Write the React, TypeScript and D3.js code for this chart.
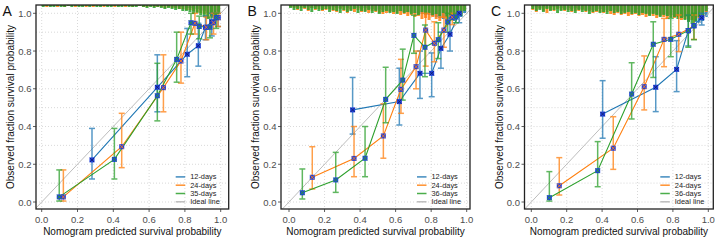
import React from 'react';
import * as d3 from 'd3';

// ---------- data ----------
const SERIES_COLORS = ['#1f77b4', '#ff7f0e', '#2ca02c'];
const PANEL_LABELS = ['A', 'B', 'C'];
const LEGEND_A = ['12-days', '24-days', '35-days', 'Ideal line'];
const LEGEND_BC = ['12-days', '24-days', '36-days', 'Ideal line'];
const X_TICKS = [0, 0.2, 0.4, 0.6, 0.8, 1.0];
const Y_TICKS = [0, 0.2, 0.4, 0.6, 0.8, 1.0];
const X_TITLE = 'Nomogram predicted survival probability';
const Y_TITLE = 'Observed fraction survival probability';

// [predicted, observed, lower, upper]
const A_12 = [[0.281, 0.223, 0.122, 0.39], [0.646, 0.608, 0.478, 0.78], [0.813, 0.783, 0.664, 0.92], [0.875, 0.828, 0.72, 0.947], [0.915, 0.926, 0.86, 0.985], [0.95, 0.955, 0.88, 1.0], [0.985, 0.977, 0.93, 1.0]];
const A_24 = [[0.121, 0.027, 0.005, 0.17], [0.447, 0.293, 0.182, 0.47], [0.68, 0.606, 0.478, 0.78], [0.778, 0.747, 0.63, 0.9], [0.856, 0.947, 0.89, 1.0], [0.92, 0.926, 0.86, 0.98], [0.96, 0.95, 0.89, 1.0], [0.985, 0.977, 0.93, 1.0]];
const A_35 = [[0.098, 0.027, 0.005, 0.17], [0.406, 0.226, 0.122, 0.39], [0.646, 0.563, 0.43, 0.735], [0.754, 0.756, 0.635, 0.9], [0.834, 0.95, 0.89, 1.0], [0.88, 0.93, 0.865, 0.985], [0.94, 0.926, 0.87, 0.98], [0.975, 0.977, 0.92, 1.0]];

const B_12 = [[0.358, 0.488, 0.36, 0.66], [0.621, 0.532, 0.408, 0.709], [0.737, 0.682, 0.549, 0.8], [0.803, 0.682, 0.558, 0.79], [0.855, 0.814, 0.709, 0.9], [0.906, 0.889, 0.8, 0.975], [0.958, 1.0, 0.95, 1.0]];
const B_24 = [[0.131, 0.131, 0.069, 0.293], [0.366, 0.231, 0.134, 0.4], [0.531, 0.35, 0.232, 0.52], [0.63, 0.597, 0.47, 0.756], [0.715, 0.717, 0.6, 0.8], [0.769, 0.911, 0.72, 1.0], [0.818, 0.841, 0.743, 0.955], [0.872, 0.911, 0.82, 0.98], [0.919, 0.979, 0.94, 1.0]];
const B_36 = [[0.075, 0.049, 0.016, 0.175], [0.263, 0.117, 0.051, 0.263], [0.428, 0.232, 0.134, 0.4], [0.544, 0.544, 0.42, 0.714], [0.64, 0.646, 0.54, 0.81], [0.703, 0.883, 0.788, 0.99], [0.765, 0.82, 0.664, 0.938], [0.84, 0.86, 0.76, 0.95], [0.893, 0.954, 0.9, 1.0], [0.94, 0.98, 0.95, 1.0]];

const C_12 = [[0.403, 0.466, 0.338, 0.643], [0.703, 0.608, 0.479, 0.77], [0.821, 0.703, 0.585, 0.855], [0.887, 0.908, 0.827, 0.99], [0.963, 0.977, 0.938, 1.0]];
const C_24 = [[0.158, 0.086, 0.037, 0.235], [0.463, 0.285, 0.173, 0.452], [0.638, 0.611, 0.488, 0.774], [0.75, 0.862, 0.717, 0.973], [0.833, 0.889, 0.797, 0.991], [0.919, 0.933, 0.862, 0.991]];
const C_36 = [[0.102, 0.023, 0.005, 0.161], [0.375, 0.166, 0.081, 0.32], [0.567, 0.572, 0.44, 0.738], [0.689, 0.836, 0.66, 0.955], [0.788, 0.862, 0.77, 0.973], [0.887, 0.908, 0.82, 0.99], [0.919, 0.935, 0.86, 1.0]];

// distribution of predicted probabilities (50 bins of width 0.02), relative frequency
const A_DIST_12 = [1,1,1,1,1,1,1,1,1,1, 1,1,1,1,1,1,1,1,1,1, 1,1,1,1,1,1,1,1,1,1, 1,1,1,1,1,1,2,2,2,2, 3,3,4,4,5,6,8,9,10,6];
const A_DIST_24 = [1,2,1,1,2,1,2,1,1,2, 1,1,2,1,2,1,1,2,1,1, 2,1,1,2,1,2,1,1,2,2, 1,2,2,2,3,2,3,3,4,4, 5,5,6,7,8,9,11,12,10,7];
const A_DIST_35 = [2,1,2,2,1,2,2,1,2,1, 2,2,1,2,1,2,2,1,2,2, 1,2,2,1,2,2,2,1,2,3, 2,3,2,3,4,3,4,5,4,6, 6,7,9,8,10,12,14,11,13,8];
const B_DIST_12 = [1,2,2,1,2,2,3,2,2,3, 2,3,2,3,3,2,3,4,3,3, 4,3,4,4,5,4,5,5,6,5, 6,6,7,7,8,8,9,9,10,10, 11,12,13,14,15,14,16,13,12,8];
const B_DIST_24 = [2,3,5,3,4,6,3,5,4,6, 5,4,6,7,4,6,8,5,7,5, 7,6,8,6,7,8,9,8,7,9, 8,10,9,11,10,12,11,14,13,15, 12,14,16,13,15,12,14,10,9,5];
const B_DIST_36 = [3,5,4,6,3,5,7,4,6,5, 4,7,5,6,8,5,7,6,4,8, 6,7,5,8,6,9,7,6,8,7, 9,6,8,7,9,8,10,7,9,8, 10,9,11,8,12,10,13,9,11,6];
const C_DIST_12 = [2,2,3,2,3,3,2,3,3,4, 3,4,3,4,4,5,4,5,5,4, 5,5,6,5,6,6,7,6,7,7, 8,7,8,9,8,9,10,9,11,10, 12,11,13,12,14,15,17,18,16,12];
const C_DIST_24 = [5,7,4,6,8,5,6,4,5,6, 5,7,6,6,5,7,6,8,7,7, 8,7,9,10,8,10,9,11,10,9, 11,10,12,10,11,13,11,12,14,12, 13,12,15,14,16,15,14,13,11,7];
const C_DIST_36 = [4,6,5,7,4,6,5,8,6,5, 7,6,8,5,7,6,9,7,6,8, 7,9,6,8,7,9,8,7,9,8, 10,8,9,11,9,10,12,10,11,13, 12,14,13,15,17,19,16,12,10,6];
const BIN_WIDTH = 0.02;

const PANEL_SERIES = [[A_12, A_24, A_35], [B_12, B_24, B_36], [C_12, C_24, C_36]];
const PANEL_DIST = [[A_DIST_12, A_DIST_24, A_DIST_35], [B_DIST_12, B_DIST_24, B_DIST_36], [C_DIST_12, C_DIST_24, C_DIST_36]];
const PANEL_LEGENDS = [LEGEND_A, LEGEND_BC, LEGEND_BC];

// ---------- layout ----------
const W = 720, H = 240;
const LAYOUT = [
  { left: 36, right: 228.7, x0: 41.7, x1: 220.7 },
  { left: 281, right: 470, x0: 289, x1: 466.7 },
  { left: 524.5, right: 713.3, x0: 531.3, x1: 708.3 },
];
const TOP = 5, BOTTOM = 209, Y0 = 202, Y1 = 13.3;
const FONT = "'Liberation Sans', Arial, Helvetica, sans-serif";
const IDEAL_COLOR = '#bdbdbd';
const MARKER_FILL = '#1f3fe0';

function Panel({ idx }: { idx: number }) {
  const L = LAYOUT[idx];
  const x = d3.scaleLinear().domain([0, 1]).range([L.x0, L.x1]);
  const y = d3.scaleLinear().domain([0, 1]).range([Y0, Y1]);
  const distLen = d3.scaleLinear().domain([0, 1]).range([0, 1]);
  const clipId = `clip${idx}`;
  const series = PANEL_SERIES[idx];
  const dists = PANEL_DIST[idx];
  const legend = PANEL_LEGENDS[idx];
  const line = d3.line<number[]>().x(d => x(d[0])).y(d => y(d[1]));
  const hGrid = d3.range(0, 1.0001, 0.1);
  const vGrid = d3.range(0, 1.0001, 0.2);
  const xDomLeft = x.invert(L.left), xDomRight = x.invert(L.right);
  const cx = (L.left + L.right) / 2;
  const cy = (TOP + BOTTOM) / 2;
  const titleX = L.left - 25.5;

  return (
    <g>
      <defs>
        <clipPath id={clipId}>
          <rect x={L.left} y={TOP} width={L.right - L.left} height={BOTTOM - TOP} />
        </clipPath>
      </defs>
      <rect x={L.left} y={TOP} width={L.right - L.left} height={BOTTOM - TOP} fill="#fff" />
      <g clipPath={`url(#${clipId})`}>
        {hGrid.map((v, i) => (
          <line key={'h' + i} x1={L.left} x2={L.right} y1={y(v)} y2={y(v)} stroke="#cfcfcf" strokeWidth={0.8} strokeDasharray="1 2" />
        ))}
        {vGrid.map((v, i) => (
          <line key={'v' + i} x1={x(v)} x2={x(v)} y1={TOP} y2={BOTTOM} stroke="#cfcfcf" strokeWidth={0.8} strokeDasharray="1 2" />
        ))}
        {dists.map((dist, s) => (
          <g key={'d' + s} fill={SERIES_COLORS[s]} opacity={0.85}>
            {dist.map((c, i) => (
              <rect key={i} x={x(i * BIN_WIDTH)} y={TOP} width={x((i + 1) * BIN_WIDTH) - x(i * BIN_WIDTH) - 0.6} height={distLen(c)} />
            ))}
          </g>
        ))}
        <line x1={x(xDomLeft)} y1={y(xDomLeft)} x2={x(xDomRight)} y2={y(xDomRight)} stroke={IDEAL_COLOR} strokeWidth={1} />
        {series.map((pts, s) => (
          <g key={'s' + s}>
            <g stroke={SERIES_COLORS[s]} strokeWidth={1.5} opacity={0.75}>
              {pts.map((d, i) => (
                <g key={i}>
                  <line x1={x(d[0])} x2={x(d[0])} y1={y(d[2])} y2={y(d[3])} />
                  <line x1={x(d[0]) - 3} x2={x(d[0]) + 3} y1={y(d[2])} y2={y(d[2])} />
                  <line x1={x(d[0]) - 3} x2={x(d[0]) + 3} y1={y(d[3])} y2={y(d[3])} />
                </g>
              ))}
            </g>
            <path d={line(pts as number[][]) || ''} fill="none" stroke={SERIES_COLORS[s]} strokeWidth={1.1} />
          </g>
        ))}
        {series.map((pts, s) => (
          <g key={'p' + s}>
            {pts.map((d, i) => (
              <g key={i} transform={`translate(${x(d[0])},${y(d[1])})`}>
                <rect x={-2.5} y={-2.5} width={5} height={5} fill={MARKER_FILL} />
                <path d="M-2.1,-2.1L2.1,2.1M-2.1,2.1L2.1,-2.1" stroke={s === 0 ? '#12246a' : SERIES_COLORS[s]} strokeWidth={0.9} />
              </g>
            ))}
          </g>
        ))}
      </g>
      <rect x={L.left} y={TOP} width={L.right - L.left} height={BOTTOM - TOP} fill="none" stroke="#222" strokeWidth={1.3} />
      {X_TICKS.map((t, i) => (
        <g key={'xt' + i}>
          <line x1={x(t)} x2={x(t)} y1={BOTTOM} y2={BOTTOM + 3} stroke="#333" strokeWidth={0.8} />
          <text x={x(t)} y={219} textAnchor="middle" dominantBaseline="central" fontSize={9.5} fill="#4d4d4d" fontFamily={FONT}>{t.toFixed(1)}</text>
        </g>
      ))}
      {Y_TICKS.map((t, i) => (
        <g key={'yt' + i}>
          <line x1={L.left - 3} x2={L.left} y1={y(t)} y2={y(t)} stroke="#333" strokeWidth={0.8} />
          <text x={L.left - 4.5} y={y(t)} textAnchor="end" dominantBaseline="central" fontSize={9.5} fill="#4d4d4d" fontFamily={FONT}>{t.toFixed(1)}</text>
        </g>
      ))}
      <text x={cx} y={231.7} textAnchor="middle" dominantBaseline="central" fontSize={10} fill="#111" fontFamily={FONT}>{X_TITLE}</text>
      <text transform={`translate(${titleX},${cy}) rotate(-90)`} textAnchor="middle" dominantBaseline="central" fontSize={10} fill="#111" fontFamily={FONT}>{Y_TITLE}</text>
      <text x={L.left - 33.5} y={15.5} fontSize={14} fill="#111" fontFamily={FONT}>{PANEL_LABELS[idx]}</text>
      {legend.map((lab, i) => {
        const ly = 176.9 + i * 8.3;
        const col = i < 3 ? SERIES_COLORS[i] : IDEAL_COLOR;
        return (
          <g key={'lg' + i}>
            <line x1={L.right - 53} x2={L.right - 43.5} y1={ly} y2={ly} stroke={col} strokeWidth={1.5} opacity={i < 3 ? 0.85 : 1} />
            <text x={L.right - 38.5} y={ly} dominantBaseline="central" fontSize={7.4} fill="#222" fontFamily={FONT}>{lab}</text>
          </g>
        );
      })}
    </g>
  );
}

export default function App() {
  return (
    <svg width={W} height={H} viewBox={`0 0 ${W} ${H}`} style={{ position: 'absolute', left: 0, top: 0, background: '#fff' }}>
      <rect x={0} y={0} width={W} height={H} fill="#fff" />
      {[0, 1, 2].map(i => <Panel key={i} idx={i} />)}
    </svg>
  );
}
